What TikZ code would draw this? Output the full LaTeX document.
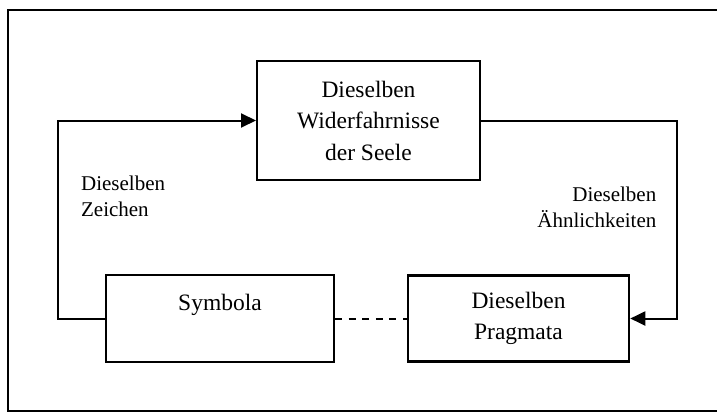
\documentclass[tikz,border=0pt]{standalone}
\usepackage{fontspec}
\setmainfont{Liberation Serif}
\usetikzlibrary{arrows.meta}

\tikzset{
  box/.style={draw, line width=1pt, inner sep=0pt, align=center,
    font=\fontsize{11.75}{15.75}\selectfont},
  lbl/.style={inner sep=0pt, font=\fontsize{10.5}{13}\selectfont},
  flow/.style={-{Triangle[length=7.5pt,width=7pt]}, line width=1pt},
}

\begin{document}
\begin{tikzpicture}
    \def\x{0.5pt}
    \def\y{-0.5pt}
    \useasboundingbox (0*\x, 0*\y) rectangle (717*\x, 412*\y);
    \draw[line width=1pt] (8*\x, 10*\y) rectangle (725*\x, 411*\y);
    \node (A0_1) at (368.5*\x, 120.5*\y) [box, minimum width=111.5pt, minimum height=59.75pt] {Dieselben\\Widerfahrnisse\\der Seele};
    \node (A1_0) at (220*\x, 318.5*\y) [box, minimum width=114pt, minimum height=43.5pt] {Symbola\\\mbox{}};
    \node (A1_2) at (518.5*\x, 318.5*\y) [box, line width=1.3pt, minimum width=110.5pt, minimum height=43pt] {Dieselben\\Pragmata};
    \node (L0) at (80.7*\x, 176*\y) [lbl, anchor=north west, align=left] {Dieselben\\Zeichen};
    \node (L1) at (656.7*\x, 186.4*\y) [lbl, anchor=north east, align=right] {Dieselben\\Ähnlichkeiten};
    \draw[flow] (A1_0.west) -- ++(-47.5*\x, 0) |- (A0_1.west);
    \draw[flow] (A0_1.east) -- ++(196*\x, 0) |- (A1_2.east);
    \draw[line width=1pt, dash pattern=on 3.5pt off 3.3pt] (A1_0.east) -- (A1_2.west);
  \end{tikzpicture}
\end{document}
